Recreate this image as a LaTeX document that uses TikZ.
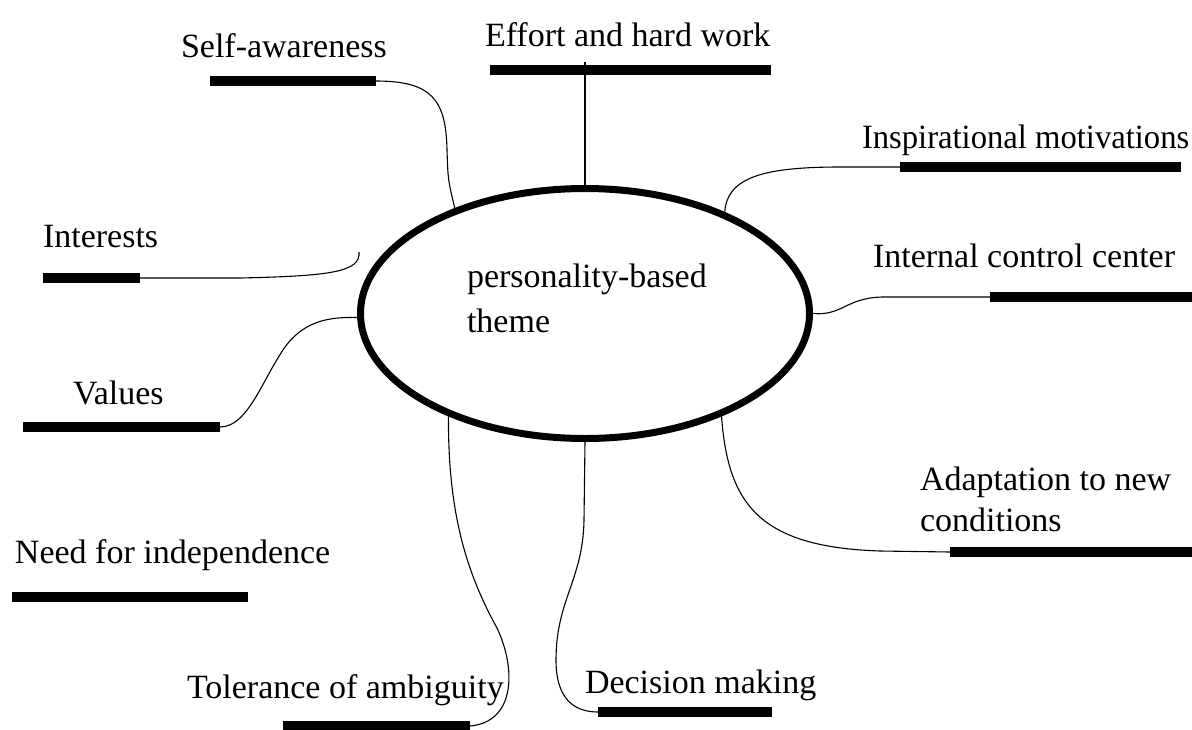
\documentclass[tikz,border=0pt]{standalone}
\usepackage{fontspec}
\usepackage{graphicx}
\setmainfont{Liberation Serif}
\usetikzlibrary{shapes.geometric}
\begin{document}
\begin{tikzpicture}[x=1pt,y=-1pt,
  bar/.style={fill=black,inner sep=0pt,outer sep=0pt,minimum height=10pt,anchor=west},
  lbl/.style={inner sep=0pt,outer sep=0pt,anchor=base west,font=\fontsize{34}{41}\selectfont,align=left},
  conn/.style={line width=1.1pt,black},
  hub/.style={ellipse,draw,line width=7pt,minimum width=449pt,minimum height=250pt,inner sep=0pt}]
\clip (0,0) rectangle (1192,729);
\fill[white] (0,0) rectangle (1192,729);
% central ellipse
\node[hub] (ell) at (585,313.5) {};
\node[lbl,font=\fontsize{34}{45}\selectfont] (theme) at (467,332) {personality-based\\theme};
% labels
\node[lbl] (tSA) at (181,57) {Self-awareness};
\node[lbl] (tEF) at (485,46) {Effort and hard work};
\node[lbl] (tIM) at (862,148) {\scalebox{0.96}[1]{Inspirational motivations}};
\node[lbl] (tIC) at (873,267) {Internal control center};
\node[lbl] (tIN) at (43,247) {Interests};
\node[lbl] (tVA) at (73,404) {Values};
\node[lbl] (tND) at (15,563) {Need for independence};
\node[lbl] (tTA) at (187,698) {Tolerance of ambiguity};
\node[lbl] (tDM) at (585,693) {Decision making};
\node[lbl] (tAD) at (920,531) {Adaptation to new\\conditions};
% bars
\node[bar,minimum width=166pt] (bSA) at (210,81) {};
\node[bar,minimum width=281pt] (bEF) at (490,70) {};
\node[bar,minimum width=281pt] (bIM) at (900,167) {};
\node[bar,minimum width=205pt] (bIC) at (990,297) {};
\node[bar,minimum width=245pt] (bAD) at (950,552) {};
\node[bar,minimum width=174pt] (bDM) at (598,712) {};
\node[bar,minimum width=187pt] (bTA) at (283,726) {};
\node[bar,minimum width=236pt] (bND) at (12,597) {};
\node[bar,minimum width=197pt] (bVA) at (23,427) {};
\node[bar,minimum width=97pt] (bIN) at (43,278) {};
\coordinate (inEnd) at (359,252);
% connectors
\draw[conn] (bSA.east) .. controls (432,81) and (446,100) .. (447,150) .. controls (448,180) .. (ell.141.9);
\draw[conn] (ell.north) -- ([yshift=3pt]ell.north |- bEF.north);
\draw[conn] (bIM.west) -- (840,167) .. controls (762,167) and (727,178) .. (ell.36);
\draw[conn] (ell.east) .. controls (842,316) and (846,298) .. (882,297) -- (bIC.west);
\draw[conn] (ell.323.5) .. controls (728,505) and (760,547) .. (880,551) -- (bAD.west);
\draw[conn] (ell.south) -- (584,520) .. controls (583,580) and (556,600) .. (556,660) .. controls (556,700) and (575,712) .. (bDM.west);
\draw[conn] (ell.217.8) .. controls (448,510) and (465,570) .. (497,628) .. controls (516,668) and (516,722) .. (bTA.east);
\draw[conn] (bVA.east) .. controls (248,427) and (262,380) .. (285,347) .. controls (305,320) and (330,317) .. (ell.181);
\draw[conn] (bIN.east) -- (240,278) .. controls (330,276) and (361,272) .. (inEnd);
\end{tikzpicture}
\end{document}
